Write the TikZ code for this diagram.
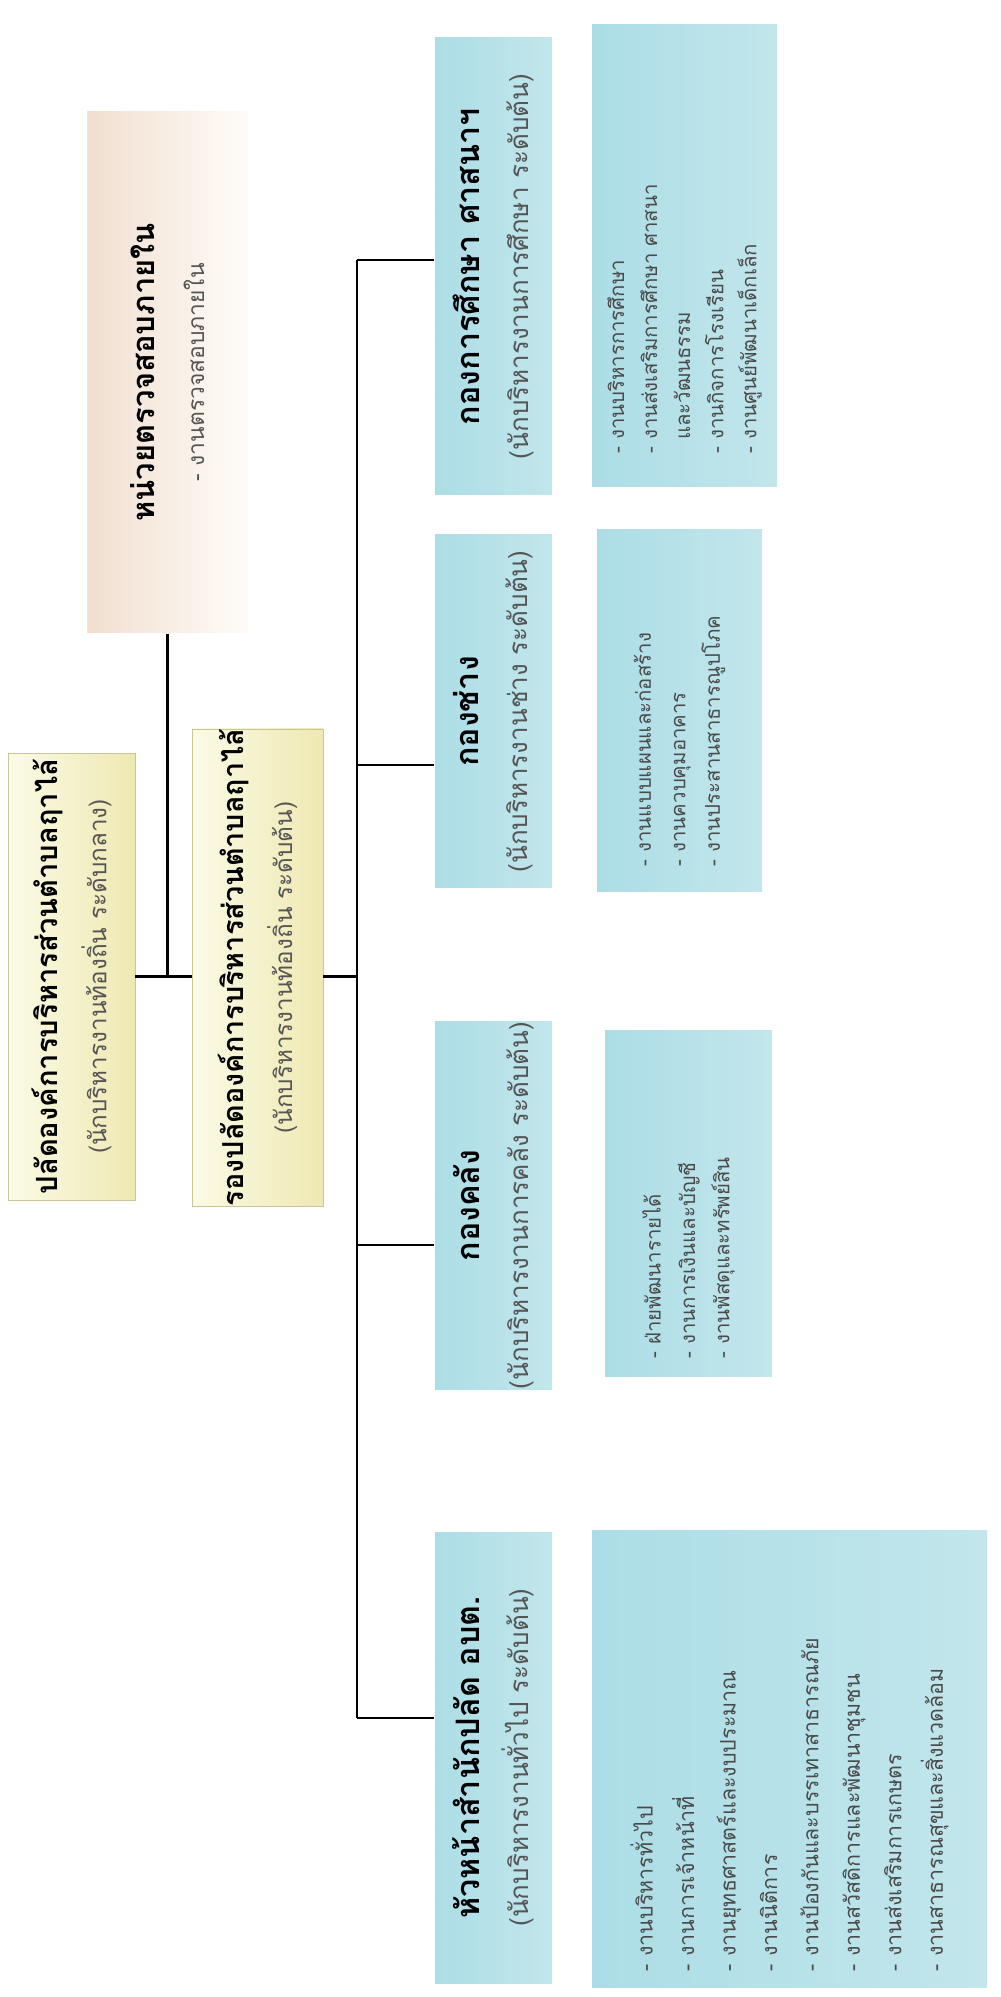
\documentclass[tikz,border=0pt]{standalone}
\usepackage{fontspec}
\newfontfamily\thaifont[Script=Thai]{Loma}
\usetikzlibrary{positioning}
\definecolor{yelL}{HTML}{FBFAE6}
\definecolor{yelR}{HTML}{EEE9B2}
\definecolor{pchL}{HTML}{F1DFD0}
\definecolor{pchR}{HTML}{FEFCF8}
\definecolor{bluL}{HTML}{ACDDE6}
\definecolor{bluM}{HTML}{E4F4F6}
\definecolor{bluR}{HTML}{C2E6EC}
\definecolor{subtxt}{HTML}{555555}
\definecolor{itemtxt}{HTML}{4A4A4A}
\tikzset{
  box/.style={rotate=90, inner sep=0pt, align=center, font=\thaifont},
  ybox/.style={box, left color=yelL, right color=yelR, draw=yelR!85!black, line width=0.2pt},
  pbox/.style={box, left color=pchL, right color=pchR},
  bbox/.style={box, left color=bluL, middle color=bluM, right color=bluR},
  dbox/.style={bbox, align=left, text=itemtxt},
  link/.style={line width=0.8pt, black}
}
\newcommand{\ttl}[2]{{\bfseries\fontsize{#1}{12}\selectfont #2}}
\newcommand{\sub}[2]{{\fontsize{#1}{9}\selectfont\color{subtxt}#2}}
\begin{document}
\begin{tikzpicture}[x=0.1mm,y=-0.1mm]
\useasboundingbox (0,0) rectangle (1000,1997);

% ---- top level
\node[pbox, minimum width=52.1mm, minimum height=16.1mm] (aud) at (167.5,372.5)
  {\ttl{8.8}{หน่วยตรวจสอบภายใน}\\[2pt]\sub{6.5}{- งานตรวจสอบภายใน}};
\node[ybox, minimum width=44.7mm, minimum height=12.7mm] (pal) at (71.5,976.5)
  {\ttl{8.3}{ปลัดองค์การบริหารส่วนตำบลฤาไล้}\\[2pt]\sub{6.9}{(นักบริหารงานท้องถิ่น ระดับกลาง)}};
\node[ybox, minimum width=44.9mm, minimum height=13.1mm] (rop) at (257.5,967.5)
  {\ttl{8.2}{รองปลัดองค์การบริหารส่วนตำบลฤาไล้}\\[2pt]\sub{6.9}{(นักบริหารงานท้องถิ่น ระดับต้น)}};

% ---- divisions
\node[bbox, minimum width=45.7mm, minimum height=11.7mm] (edu) at (493.5,266.5)
  {\ttl{9.2}{กองการศึกษา ศาสนาฯ}\\[2pt]\sub{7.4}{(นักบริหารงานการศึกษา ระดับต้น)}};
\node[bbox, minimum width=35.3mm, minimum height=11.7mm] (civ) at (493.5,711.5)
  {\ttl{9.2}{กองช่าง}\\[2pt]\sub{7.4}{(นักบริหารงานช่าง ระดับต้น)}};
\node[bbox, minimum width=34.5mm, minimum height=11.7mm] (fin) at (493.5,1205.5)
  {\ttl{9.2}{กองคลัง}\\[2pt]\sub{7.4}{(นักบริหารงานการคลัง ระดับต้น)}};
\node[bbox, minimum width=45.1mm, minimum height=11.7mm] (off) at (493.5,1757.5)
  {\ttl{9.2}{หัวหน้าสำนักปลัด อบต.}\\[2pt]\sub{7.4}{(นักบริหารงานทั่วไป ระดับต้น)}};

% ---- tasks
\node[dbox, minimum width=46.2mm, minimum height=18.5mm, text width=39.5mm,
  font=\thaifont\fontsize{5.8}{9.4}\selectfont] (eduD) at (684.5,256)
  {- งานบริหารการศึกษา\\
   - งานส่งเสริมการศึกษา ศาสนา\\
   \phantom{- }และวัฒนธรรม\\
   - งานกิจการโรงเรียน\\
   - งานศูนย์พัฒนาเด็กเล็ก};
\node[dbox, minimum width=36.2mm, minimum height=16.5mm, text width=31mm,
  font=\thaifont\fontsize{5.8}{9.8}\selectfont] (civD) at (679.5,711)
  {- งานแบบแผนและก่อสร้าง\\
   - งานควบคุมอาคาร\\
   - งานประสานสาธารณูปโภค};
\node[dbox, minimum width=34.6mm, minimum height=16.7mm, text width=31mm,
  font=\thaifont\fontsize{5.8}{9.8}\selectfont] (finD) at (688.5,1203)
  {- ฝ่ายพัฒนารายได้\\
   - งานการเงินและบัญชี\\
   - งานพัสดุและทรัพย์สิน};
\node[dbox, minimum width=45.7mm, minimum height=39.5mm, text width=42.5mm,
  font=\thaifont\fontsize{6.1}{11.8}\selectfont] (offD) at (789.5,1758.5)
  {- งานบริหารทั่วไป\\
   - งานการเจ้าหน้าที่\\
   - งานยุทธศาสตร์และงบประมาณ\\
   - งานนิติการ\\
   - งานป้องกันและบรรเทาสาธารณภัย\\
   - งานสวัสดิการและพัฒนาชุมชน\\
   - งานส่งเสริมการเกษตร\\
   - งานสาธารณสุขและสิ่งแวดล้อม};

% ---- lines
\coordinate (bus1) at (357,260);
\coordinate (bus2) at (357,765);
\coordinate (bus3) at (357,1245);
\coordinate (bus4) at (357,1718);
\draw[link] (aud.west) -- (aud.west |- pal.south);
\draw[link] (pal.south) -- (rop.north |- pal.south);
\draw[link] (rop.south |- pal.south) -- (pal.south -| bus1);
\draw[link] (bus1) -- (bus4);
\foreach \b/\n in {bus1/edu,bus2/civ,bus3/fin,bus4/off}
  \draw[link] (\b) -- (\b -| \n.north);
\end{tikzpicture}
\end{document}
